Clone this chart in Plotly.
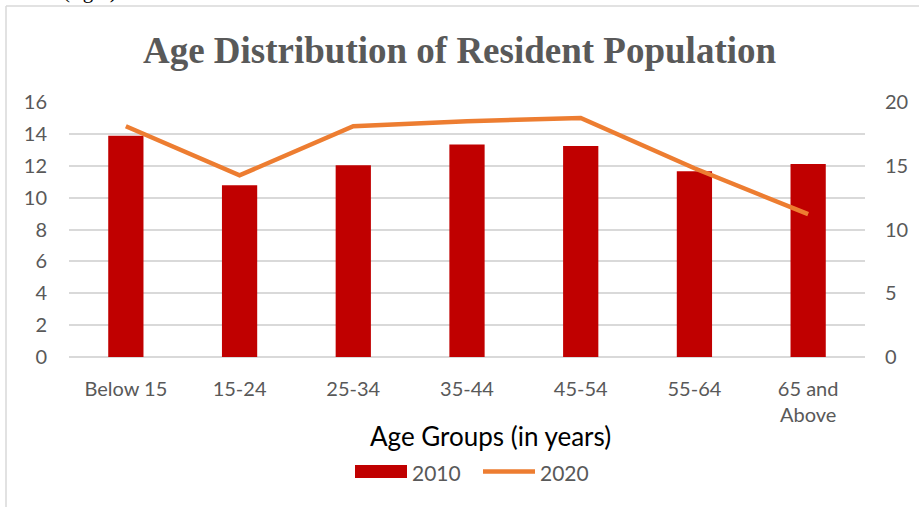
import plotly.graph_objects as go

categories = ["Below 15", "15-24", "25-34", "35-44", "45-54", "55-64", "65 and<br>Above"]
values_2010 = [13.88, 10.77, 12.03, 13.34, 13.24, 11.65, 12.11]
values_2020 = [18.1, 14.25, 18.1, 18.5, 18.75, 14.8, 11.2]
left_ticks = [0, 2, 4, 6, 8, 10, 12, 14, 16]
right_ticks = [0, 5, 10, 15, 20]

W, H = 919, 507
L, R, T, B = 69, 54, 102, 150
PW, PH = W - L - R, H - T - B

def px(x):
    return (x - L) / PW

def py(y):
    return (H - B - y) / PH

TICKFONT = dict(family="Lato, Noto Sans, sans-serif", size=20, color="#595959")
LEGFONT = dict(family="Lato, Noto Sans, sans-serif", size=21, color="#595959")

fig = go.Figure()
fig.add_trace(go.Bar(x=categories, y=values_2010, name="2010", marker_color="#C00000",
                     marker_line_width=0, width=0.31, yaxis="y"))
fig.add_trace(go.Scatter(x=categories, y=values_2020, name="2020", mode="lines",
                         line=dict(color="#ED7D31", width=4.5), yaxis="y2"))

fig.update_layout(
    width=W, height=H,
    margin=dict(l=L, r=R, t=T, b=B),
    paper_bgcolor="white", plot_bgcolor="white",
    showlegend=False,
    title=dict(text="<b>Age Distribution of Resident Population</b>",
               font=dict(family="Liberation Serif, Times New Roman, serif", size=37, color="#595959"),
               x=px(467), xanchor="center", y=1 - 50 / H, yanchor="middle"),
    xaxis=dict(showgrid=False, showline=False, ticks="", tickfont=TICKFONT,
               ticklabelstandoff=18, zeroline=False),
    yaxis=dict(range=[0, 16], tickvals=left_ticks, showgrid=True, gridcolor="#D9D9D9",
               gridwidth=1.5, zeroline=True, zerolinecolor="#D9D9D9", zerolinewidth=1.5,
               showline=False, ticks="", tickfont=TICKFONT, ticklabelstandoff=21),
    yaxis2=dict(range=[0, 20], tickvals=right_ticks, overlaying="y", side="right",
                showgrid=False, zeroline=False, showline=False, ticks="", tickfont=TICKFONT,
                ticklabelstandoff=19),
    bargap=0.69,
)

shapes = [
    # chart border (left and top)
    dict(type="line", xref="paper", yref="paper", x0=px(6), x1=px(6), y0=py(H + 5), y1=py(6),
         line=dict(color="#D9D9D9", width=1.5)),
    dict(type="line", xref="paper", yref="paper", x0=px(6), x1=px(W + 5), y0=py(6), y1=py(6),
         line=dict(color="#D9D9D9", width=1.5)),
    # manual legend
    dict(type="rect", xref="paper", yref="paper", x0=px(355), x1=px(407), y0=py(478), y1=py(465),
         fillcolor="#C00000", line=dict(width=0)),
    dict(type="line", xref="paper", yref="paper", x0=px(483), x1=px(535), y0=py(471.5), y1=py(471.5),
         line=dict(color="#ED7D31", width=4.5)),
]
fig.update_layout(shapes=shapes)

annotations = [
    dict(text="Age Groups (in years)", xref="paper", yref="paper", x=px(490), y=py(436),
         xanchor="center", yanchor="middle", showarrow=False,
         font=dict(family="Lato, Noto Sans, sans-serif", size=26, color="#000000")),
    dict(text="2010", xref="paper", yref="paper", x=px(410), y=py(472),
         xanchor="left", yanchor="middle", showarrow=False, font=LEGFONT),
    dict(text="2020", xref="paper", yref="paper", x=px(538), y=py(472),
         xanchor="left", yanchor="middle", showarrow=False, font=LEGFONT),
    dict(text="(right)", xref="paper", yref="paper", x=px(90), y=py(-9),
         xanchor="center", yanchor="middle", showarrow=False,
         font=dict(family="Liberation Serif, Times New Roman, serif", size=21, color="#000000")),
]
fig.update_layout(annotations=annotations)

fig.write_html("out.html", config={"displayModeBar": False},
               post_script="document.body.style.margin='0px';")
